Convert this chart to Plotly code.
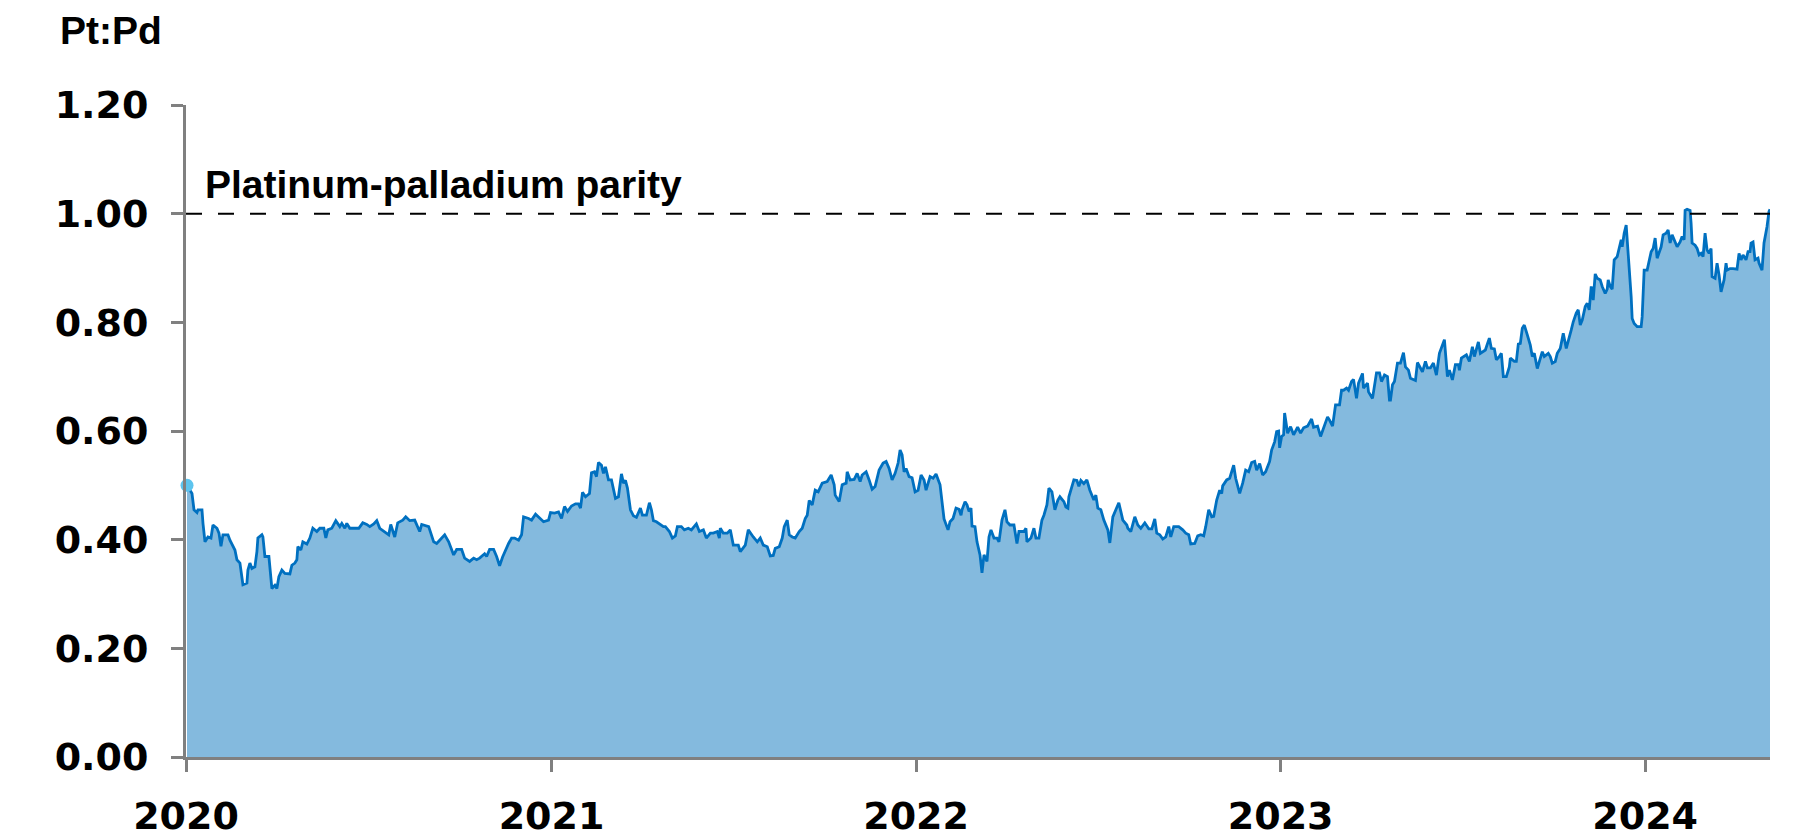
import pandas as pd
import plotly.graph_objects as go

days_since_2020 = [
    1, 6, 8, 11, 12, 16, 17, 19, 22, 25, 27, 31, 33, 35, 37, 42, 44, 49, 51, 54,
    57, 61, 62, 64, 66, 69, 71, 72, 76, 77, 79, 83, 86, 89, 91, 93, 96, 99, 104, 106,
    109, 111, 112, 115, 117, 121, 124, 127, 131, 134, 138, 140, 142, 146, 150, 154, 156, 159, 161, 164,
    173, 177, 181, 184, 188, 191, 194, 199, 203, 205, 209, 212, 217, 220, 224, 229, 234, 236, 243, 248,
    251, 254, 259, 263, 266, 268, 271, 276, 279, 284, 288, 291, 294, 299, 301, 304, 308, 311, 314, 317,
    323, 326, 329, 333, 336, 338, 343, 346, 350, 354, 358, 363, 365, 369, 373,
    376, 379, 382, 386, 390, 393, 395, 397, 400, 404, 406, 409, 411, 413, 416, 418, 420, 423, 426, 430,
    433, 435, 436, 438, 440, 442, 445, 448, 451, 455, 457, 461, 464, 466, 468, 471, 475, 478, 480, 484,
    487, 490, 492, 496, 499, 503, 506, 511, 514, 518, 521, 525, 528, 532, 534, 535, 538, 542, 545, 548,
    553, 555, 560, 563, 568, 572, 575, 578, 582, 585, 588, 590, 594, 597, 599, 602, 604, 607, 610, 614,
    617, 620, 622, 624, 627, 630, 633, 637, 642, 646, 649, 650, 654, 657, 661, 662, 665, 669, 672, 675,
    677, 681, 684, 687, 690, 694, 698, 701, 704, 707, 710, 713, 715, 717, 719, 721, 724, 727, 730, 733,
    736, 739, 741, 745, 748, 751, 755, 757, 759, 763, 765, 768, 771, 774, 776, 777, 780, 782, 784, 786,
    787, 790, 792, 795, 797, 799, 802, 804, 806, 809, 812, 814, 817, 820, 822, 825, 829, 832, 834, 839,
    841, 842, 846, 849, 851, 854, 857, 859, 862, 864, 867, 870, 873, 875, 879, 881, 883, 884, 887, 889,
    892, 894, 896, 899, 902, 905, 909, 911, 913, 916, 919, 923, 925, 928, 931, 934, 936, 938, 942, 943,
    946, 950, 953, 956, 960, 964, 967, 970, 972, 975, 978, 981, 984, 986, 989, 994, 998, 1001, 1004, 1006,
    1010, 1013, 1016, 1019, 1021, 1024, 1027, 1029, 1032, 1035, 1037, 1038, 1042, 1045, 1047, 1049, 1051, 1055, 1058, 1061,
    1064, 1067, 1070, 1072, 1075, 1078, 1081, 1085, 1087, 1090, 1092, 1094, 1095, 1097, 1099,
    1100, 1103, 1106, 1109, 1113, 1116, 1119, 1123, 1127, 1129, 1133, 1136, 1139, 1143, 1145, 1148, 1151, 1155, 1157, 1159,
    1162, 1164, 1167, 1169, 1172, 1174, 1178, 1179, 1183, 1184, 1188, 1192, 1195, 1197, 1200, 1203, 1205, 1206, 1208, 1210,
    1213, 1216, 1219, 1221, 1224, 1226, 1231, 1233, 1238, 1241, 1243, 1246, 1249, 1252, 1255, 1258, 1260, 1263, 1265, 1268,
    1271, 1274, 1275, 1277, 1282, 1285, 1288, 1290, 1294, 1296, 1301, 1305, 1307, 1310, 1312, 1315, 1317, 1319, 1322, 1325,
    1326, 1330, 1332, 1334, 1336, 1338, 1340, 1343, 1346, 1348, 1350, 1353, 1356, 1358, 1360, 1364, 1366, 1368, 1371, 1373,
    1376, 1379, 1382, 1384, 1387, 1389, 1392, 1394, 1396, 1398, 1401, 1403, 1405, 1407, 1409, 1411, 1413, 1416, 1418, 1421,
    1423, 1424, 1426, 1428, 1430, 1433, 1435, 1437, 1438, 1440, 1442, 1443, 1445, 1447, 1448, 1450, 1453, 1457, 1458, 1459,
    1460, 1463, 1465, 1467, 1469, 1471, 1473, 1475, 1477, 1479, 1482, 1484, 1486, 1488, 1490, 1492, 1493, 1496, 1498, 1500,
    1501, 1503, 1506, 1507, 1508, 1511, 1513, 1515, 1517, 1519, 1521, 1523, 1525, 1527, 1528, 1531, 1533, 1535, 1537, 1540,
    1542, 1543, 1546, 1549, 1553, 1555, 1557, 1559, 1562, 1564, 1566, 1567, 1569, 1571, 1574, 1575, 1578, 1580, 1583, 1585,
    1586,
]

# Platinum:palladium price ratio
pt_pd_ratio = [
    0.500, 0.485, 0.455, 0.450, 0.455, 0.455, 0.430, 0.396, 0.405, 0.403, 0.427, 0.421, 0.412, 0.388, 0.409, 0.409, 0.399, 0.381, 0.363, 0.357,
    0.317, 0.320, 0.344, 0.357, 0.347, 0.350, 0.378, 0.403, 0.409, 0.405, 0.369, 0.369, 0.310, 0.316, 0.310, 0.332, 0.344, 0.338, 0.337, 0.353,
    0.357, 0.363, 0.387, 0.381, 0.396, 0.392, 0.403, 0.421, 0.415, 0.421, 0.421, 0.403, 0.418, 0.421, 0.435, 0.424, 0.430, 0.421, 0.430, 0.421,
    0.421, 0.431, 0.428, 0.424, 0.429, 0.435, 0.421, 0.415, 0.409, 0.428, 0.405, 0.431, 0.436, 0.442, 0.435, 0.436, 0.415, 0.428, 0.424, 0.396,
    0.393, 0.399, 0.409, 0.396, 0.381, 0.372, 0.382, 0.382, 0.366, 0.360, 0.366, 0.363, 0.366, 0.374, 0.369, 0.382, 0.382, 0.369, 0.352, 0.368,
    0.393, 0.403, 0.403, 0.399, 0.409, 0.442, 0.439, 0.436, 0.447, 0.439, 0.433, 0.436, 0.450, 0.449, 0.451,
    0.439, 0.461, 0.452, 0.462, 0.466, 0.466, 0.458, 0.487, 0.479, 0.485, 0.523, 0.525, 0.516, 0.542, 0.537, 0.522, 0.534, 0.510, 0.510, 0.476,
    0.479, 0.504, 0.521, 0.504, 0.509, 0.495, 0.455, 0.444, 0.441, 0.458, 0.445, 0.445, 0.468, 0.455, 0.435, 0.433, 0.427, 0.424, 0.424, 0.415,
    0.403, 0.407, 0.424, 0.424, 0.418, 0.421, 0.418, 0.429, 0.415, 0.418, 0.403, 0.412, 0.412, 0.415, 0.403, 0.421, 0.412, 0.412, 0.418, 0.390,
    0.390, 0.378, 0.390, 0.418, 0.405, 0.396, 0.403, 0.390, 0.387, 0.370, 0.371, 0.384, 0.387, 0.403, 0.424, 0.436, 0.409, 0.405, 0.403, 0.415,
    0.421, 0.439, 0.445, 0.472, 0.464, 0.491, 0.488, 0.504, 0.507, 0.519, 0.501, 0.482, 0.470, 0.501, 0.504, 0.525, 0.510, 0.511, 0.522, 0.507,
    0.519, 0.525, 0.510, 0.493, 0.498, 0.528, 0.541, 0.544, 0.531, 0.510, 0.522, 0.541, 0.565, 0.556, 0.525, 0.531, 0.516, 0.514, 0.488, 0.491,
    0.519, 0.510, 0.491, 0.516, 0.513, 0.521, 0.501, 0.473, 0.438, 0.418, 0.433, 0.439, 0.458, 0.456, 0.445, 0.455, 0.470, 0.464, 0.452, 0.458,
    0.425, 0.424, 0.396, 0.372, 0.339, 0.372, 0.360, 0.405, 0.418, 0.403, 0.403, 0.396, 0.436, 0.455, 0.433, 0.427, 0.427, 0.393, 0.415, 0.415,
    0.421, 0.396, 0.403, 0.421, 0.403, 0.403, 0.436, 0.445, 0.464, 0.495, 0.488, 0.455, 0.473, 0.479, 0.470, 0.460, 0.458, 0.479, 0.498, 0.510,
    0.509, 0.498, 0.509, 0.503, 0.510, 0.491, 0.473, 0.482, 0.458, 0.455, 0.436, 0.418, 0.394, 0.442, 0.455, 0.468, 0.452, 0.436, 0.427, 0.421,
    0.415, 0.442, 0.427, 0.421, 0.431, 0.420, 0.420, 0.438, 0.412, 0.409, 0.401, 0.405, 0.424, 0.405, 0.424, 0.424, 0.418, 0.412, 0.409, 0.392,
    0.393, 0.407, 0.409, 0.407, 0.424, 0.455, 0.442, 0.443, 0.473, 0.491, 0.485, 0.499, 0.510, 0.513, 0.525, 0.537, 0.513, 0.485, 0.504, 0.528,
    0.525, 0.542, 0.544, 0.528, 0.540, 0.519, 0.525, 0.544, 0.565, 0.580, 0.599, 0.600, 0.569, 0.590, 0.593,
    0.633, 0.596, 0.608, 0.593, 0.607, 0.596, 0.606, 0.609, 0.622, 0.607, 0.609, 0.590, 0.606, 0.626, 0.620, 0.609, 0.648, 0.648, 0.675, 0.675,
    0.679, 0.675, 0.691, 0.695, 0.660, 0.688, 0.706, 0.679, 0.688, 0.672, 0.660, 0.707, 0.707, 0.691, 0.703, 0.700, 0.657, 0.657, 0.685, 0.691,
    0.725, 0.725, 0.744, 0.718, 0.712, 0.697, 0.693, 0.726, 0.709, 0.728, 0.716, 0.716, 0.725, 0.703, 0.743, 0.758, 0.768, 0.700, 0.712, 0.694,
    0.722, 0.722, 0.712, 0.734, 0.740, 0.728, 0.755, 0.737, 0.764, 0.743, 0.749, 0.771, 0.752, 0.751, 0.731, 0.737, 0.743, 0.700, 0.700, 0.718,
    0.734, 0.728, 0.728, 0.760, 0.761, 0.789, 0.795, 0.777, 0.758, 0.737, 0.743, 0.715, 0.734, 0.746, 0.737, 0.743, 0.737, 0.725, 0.728, 0.743,
    0.752, 0.780, 0.752, 0.764, 0.786, 0.801, 0.817, 0.823, 0.795, 0.804, 0.829, 0.835, 0.823, 0.866, 0.841, 0.889, 0.881, 0.878, 0.866, 0.853,
    0.861, 0.878, 0.866, 0.861, 0.915, 0.921, 0.939, 0.952, 0.939, 0.964, 0.979, 0.952, 0.909, 0.847, 0.807, 0.798, 0.792, 0.792, 0.810, 0.878,
    0.896, 0.896, 0.912, 0.930, 0.936, 0.955, 0.918, 0.930, 0.939, 0.961, 0.964, 0.970, 0.946, 0.961, 0.952, 0.942, 0.939, 0.948, 0.958, 0.952,
    1.006, 1.008, 1.006, 0.982, 0.946, 0.942, 0.936, 0.924, 0.927, 0.921, 0.964, 0.933, 0.927, 0.936, 0.884, 0.881, 0.909, 0.887, 0.856, 0.878,
    0.909, 0.896, 0.899, 0.899, 0.898, 0.927, 0.915, 0.924, 0.915, 0.930, 0.930, 0.946, 0.948, 0.915, 0.918, 0.909, 0.896, 0.946, 0.976, 1.004,
    1.008,
]

year_labels = ["2020", "2021", "2022", "2023", "2024"]
y_ticks = [0.0, 0.2, 0.4, 0.6, 0.8, 1.0, 1.2]
parity_level = 1.0
y_title = "Pt:Pd"
parity_label = "Platinum-palladium parity"

dates = pd.Timestamp("2020-01-01") + pd.to_timedelta(days_since_2020, unit="D")
year_ticks = [pd.Timestamp(f"{y}-01-01") for y in year_labels]

TEXT_FONT = "Liberation Sans, Arial, sans-serif"
TICK_FONT = "DejaVu Sans, Liberation Sans, sans-serif"
AXIS_GREY = "#808080"

fig = go.Figure()
fig.add_trace(go.Scatter(
    x=dates, y=pt_pd_ratio, mode="lines",
    line=dict(color="#0070C0", width=2.8),
    fill="tozeroy", fillcolor="#84BADE",
    hoverinfo="skip", showlegend=False,
))
fig.add_trace(go.Scatter(
    x=dates[:1], y=pt_pd_ratio[:1], mode="markers",
    marker=dict(color="#5DC4EE", size=13, symbol="circle"),
    cliponaxis=False, hoverinfo="skip", showlegend=False,
))

fig.add_hline(y=parity_level, line=dict(color="black", width=2, dash="16px,16px"), layer="above")

fig.add_annotation(
    text=parity_label, xref="paper", yref="y", x=0.0105, y=parity_level,
    xanchor="left", yanchor="bottom", yshift=6, showarrow=False,
    font=dict(family=TEXT_FONT, size=39, color="black", weight="bold"),
)
fig.add_annotation(
    text=y_title, xref="paper", yref="paper", x=-0.081, y=1.1135,
    xanchor="left", yanchor="middle", showarrow=False,
    font=dict(family=TEXT_FONT, size=39, color="black", weight="bold"),
)

fig.update_xaxes(
    type="date", range=[pd.Timestamp("2020-01-01"), dates[-1]],
    tickvals=year_ticks, ticktext=year_labels,
    showline=True, linecolor=AXIS_GREY, linewidth=3,
    ticks="outside", ticklen=12, tickwidth=3, tickcolor=AXIS_GREY,
    ticklabelstandoff=11, automargin=False,
    showgrid=False, zeroline=False,
    tickfont=dict(family=TICK_FONT, size=38, color="black", weight="bold"),
)
fig.update_yaxes(
    range=[0, 1.2], tickvals=y_ticks, tickformat=".2f",
    showline=True, linecolor=AXIS_GREY, linewidth=3,
    ticks="outside", ticklen=12, tickwidth=3, tickcolor=AXIS_GREY,
    ticklabelstandoff=15, automargin=False,
    showgrid=False, zeroline=False,
    tickfont=dict(family=TICK_FONT, size=38, color="black", weight="bold"),
)

# the page body adds an 8px offset, so the margins are shifted to keep the plot area in place
fig.update_layout(
    width=1812, height=839,
    margin=dict(l=178, r=50, t=97, b=90, autoexpand=False),
    paper_bgcolor="white", plot_bgcolor="white",
)

fig.write_html("out.html")
